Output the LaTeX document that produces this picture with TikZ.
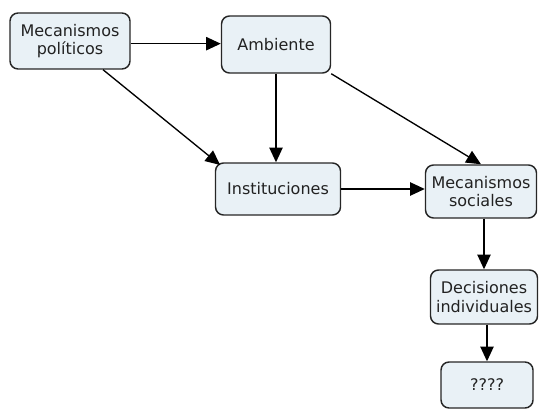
\documentclass[tikz,border=0pt]{standalone}
\usepackage{fontspec}
\setmainfont{DejaVu Sans}
\usetikzlibrary{arrows.meta}
\definecolor{boxfill}{HTML}{E9F1F6}
\definecolor{txt}{HTML}{222222}
\tikzset{
  cbox/.style={draw=black!85, line width=1.1pt, fill=boxfill, rounded corners=6pt,
    align=center, text=txt, font=\fontsize{12}{14}\selectfont, inner sep=2pt},
  link/.style={line width=1pt, -{Triangle[length=11pt,width=10pt]}}
}
\begin{document}
\begin{tikzpicture}[x=0.75pt,y=-0.75pt]
\useasboundingbox (0,0) rectangle (539,410);
\node[cbox, minimum width=90pt, minimum height=42pt] (mp) at (70,41) {Mecanismos\\políticos};
\node[cbox, minimum width=81.75pt, minimum height=42.75pt] (amb) at (276,44.5) {Ambiente};
\node[cbox, minimum width=93.75pt, minimum height=39pt] (inst) at (278,189) {Instituciones};
\node[cbox, minimum width=83.25pt, minimum height=39.75pt] (ms) at (481,191.5) {Mecanismos\\sociales};
\node[cbox, minimum width=80.25pt, minimum height=40.5pt] (dec) at (484,297) {Decisiones\\individuales};
\node[cbox, minimum width=69pt, minimum height=34.5pt] (q) at (487,385) {????};
\draw[link] ([yshift=-2pt]mp.east) -- ([yshift=-2pt]mp.east -| amb.west);
\draw[link] (mp.-41) -- ([xshift=4pt,yshift=-2pt]inst.north west);
\draw[link] (amb.south) -- (amb.south |- inst.north);
\draw[link] (amb.south east) -- (ms.north);
\draw[link] (inst.east) -- (inst.east -| ms.west);
\draw[link] (dec.north |- ms.south) -- (dec.north);
\draw[link] (q.north |- dec.south) -- (q.north);
\end{tikzpicture}
\end{document}
